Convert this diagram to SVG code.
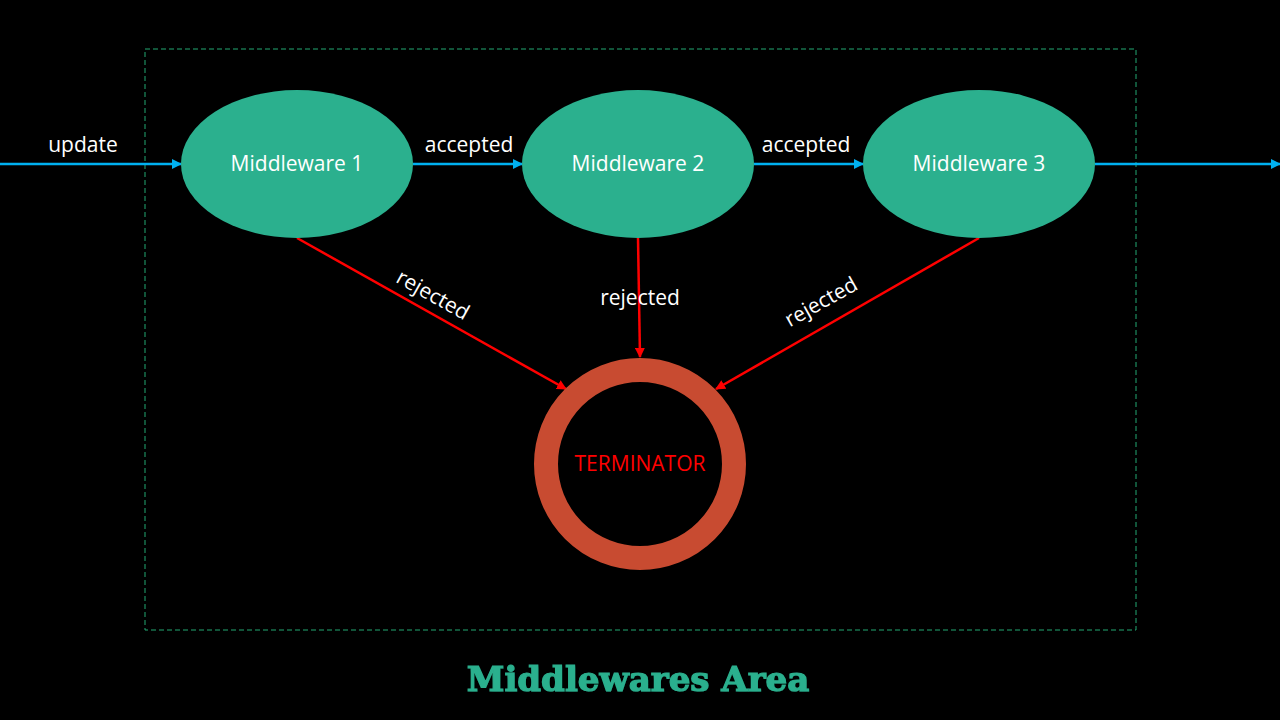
<svg xmlns="http://www.w3.org/2000/svg" width="1280" height="720" viewBox="0 0 1280 720">
<defs>
<style>
.node{fill:#2BB08E;}
.lbl{font-family:"Open Sans","Liberation Sans",sans-serif;font-size:21px;fill:#FFFFFF;text-anchor:middle;}
.blue{stroke:#00B0F0;stroke-width:2.5;fill:none;}
.red{stroke:#FF0000;stroke-width:2.5;fill:none;}
.title{font-family:"DejaVu Serif","Liberation Serif",serif;font-weight:bold;font-size:34px;fill:#2BB08E;text-anchor:middle;stroke:#2BB08E;stroke-width:1.2;}
</style>
<marker id="ab" viewBox="0 0 10 10" refX="9" refY="5" markerWidth="4" markerHeight="4" orient="auto" markerUnits="strokeWidth"><path d="M0,0 L10,5 L0,10 z" fill="#00B0F0"/></marker>
<marker id="ar" viewBox="0 0 10 10" refX="9" refY="5" markerWidth="4" markerHeight="4" orient="auto" markerUnits="strokeWidth"><path d="M0,0 L10,5 L0,10 z" fill="#FF0000"/></marker>
<filter id="sh" x="-5%" y="-20%" width="110%" height="140%"><feDropShadow dx="1" dy="2" stdDeviation="1" flood-color="#000" flood-opacity="0.8"/></filter>
</defs>
<rect width="1280" height="720" fill="#000"/>
<rect id="area" x="145" y="49" width="991" height="581" fill="none" stroke="#22A873" stroke-width="1" stroke-dasharray="5,3"/>
<g id="connectors">
<line class="blue" x1="0" y1="164" x2="181" y2="164" marker-end="url(#ab)"/>
<line class="blue" x1="413" y1="164" x2="522" y2="164" marker-end="url(#ab)"/>
<line class="blue" x1="754" y1="164" x2="863" y2="164" marker-end="url(#ab)"/>
<line class="blue" x1="1095" y1="164" x2="1280" y2="164" marker-end="url(#ab)"/>
<line class="red" x1="297" y1="238" x2="566" y2="389" marker-end="url(#ar)"/>
<line class="red" x1="638" y1="238" x2="640" y2="357" marker-end="url(#ar)"/>
<line class="red" x1="979" y1="238" x2="716" y2="389" marker-end="url(#ar)"/>
<text class="lbl" x="83" y="152">update</text>
<text class="lbl" x="469" y="152">accepted</text>
<text class="lbl" x="806" y="152">accepted</text>
<text class="lbl" x="433" y="302" transform="rotate(29.3 433 295)">rejected</text>
<text class="lbl" x="640" y="305">rejected</text>
<text class="lbl" x="821" y="309" transform="rotate(-29.3 821 302)">rejected</text>
</g>
<g id="m1"><ellipse class="node" cx="297" cy="164" rx="116" ry="74"/><text class="lbl" x="297" y="171">Middleware 1</text></g>
<g id="m2"><ellipse class="node" cx="638" cy="164" rx="116" ry="74"/><text class="lbl" x="638" y="171">Middleware 2</text></g>
<g id="m3"><ellipse class="node" cx="979" cy="164" rx="116" ry="74"/><text class="lbl" x="979" y="171">Middleware 3</text></g>
<g id="terminator"><circle cx="640" cy="464" r="94" fill="none" stroke="#C84B31" stroke-width="24"/><text class="lbl" x="640" y="471" style="fill:#FF0000">TERMINATOR</text></g>
<text class="title" x="638" y="691" filter="url(#sh)">Middlewares Area</text>
</svg>
